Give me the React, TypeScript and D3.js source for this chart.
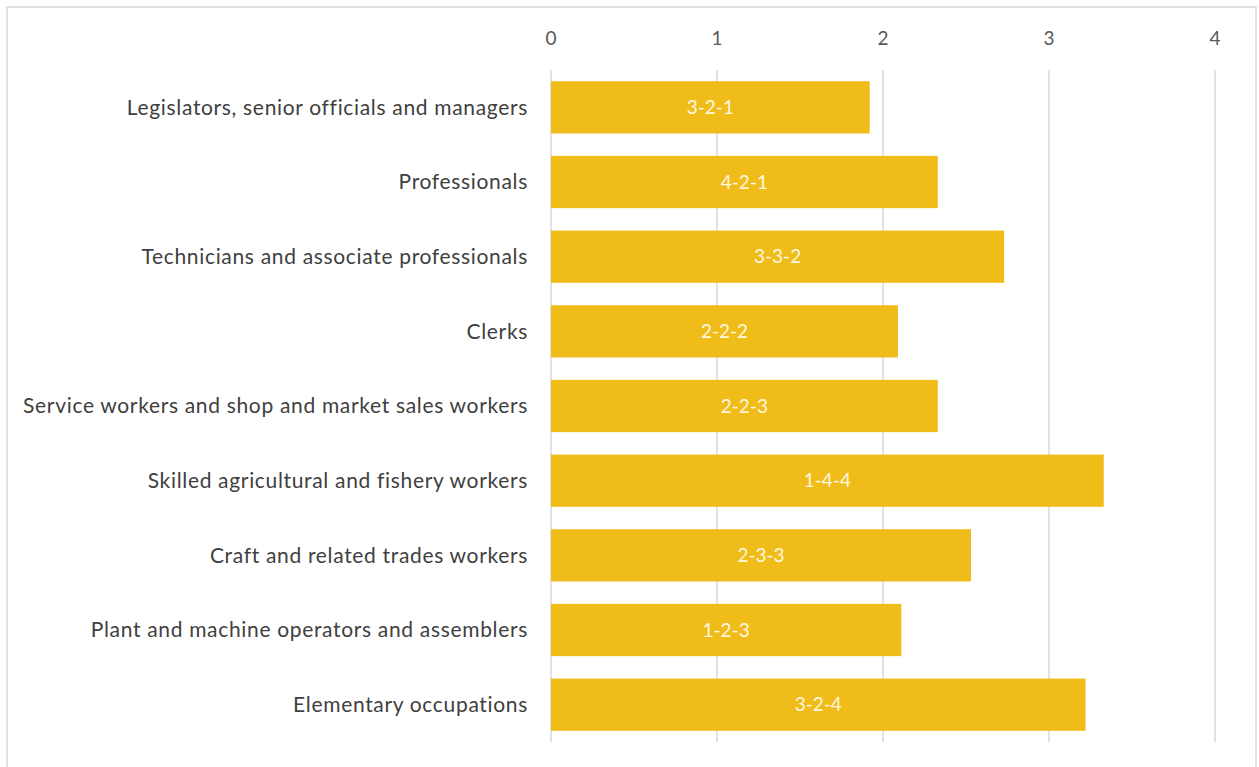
import React from "react";
import * as d3 from "d3";

const categories = [
  "Legislators, senior officials and managers",
  "Professionals",
  "Technicians and associate professionals",
  "Clerks",
  "Service workers and shop and market sales workers",
  "Skilled agricultural and fishery workers",
  "Craft and related trades workers",
  "Plant and machine operators and assemblers",
  "Elementary occupations",
];
const values = [1.92, 2.33, 2.73, 2.09, 2.33, 3.33, 2.53, 2.11, 3.22];
const barLabels = ["3-2-1", "4-2-1", "3-3-2", "2-2-2", "2-2-3", "1-4-4", "2-3-3", "1-2-3", "3-2-4"];
const ticks = [0, 1, 2, 3, 4];

export default function App() {
  const W = 1259, H = 767;
  const x = d3.scaleLinear().domain([0, 4]).range([551, 1215]);
  const y = d3.scaleBand<string>().domain(categories).range([70, 742]).paddingInner(0.3).paddingOuter(0.15);
  const font = "Lato, 'Open Sans', sans-serif";
  return (
    <svg width={W} height={H} style={{ position: "absolute", left: 0, top: 0, background: "#fff" }}>
      <rect x={7} y={7} width={1249} height={800} fill="#fff" stroke="#d9d9d9" strokeWidth={1.5} />
      {ticks.map((t) => (
        <g key={t}>
          <line x1={x(t)} x2={x(t)} y1={70} y2={742} stroke="#d9d9d9" strokeWidth={1.5} />
          <text x={x(t)} y={45} textAnchor="middle" fontFamily={font} fontSize={19} fill="#595959">{t}</text>
        </g>
      ))}
      {categories.map((c, i) => (
        <g key={c}>
          <rect x={x(0)} y={y(c)!} width={x(values[i]) - x(0)} height={y.bandwidth()} fill="#F0BC19" />
          <text x={(x(0) + x(values[i])) / 2} y={y(c)! + y.bandwidth() / 2} dy="0.35em" textAnchor="middle" fontFamily={font} fontSize={19} fill="#FFF8E1">{barLabels[i]}</text>
          <text x={528} y={y(c)! + y.bandwidth() / 2} dy="0.35em" textAnchor="end" fontFamily={font} fontSize={21} letterSpacing={0.67} fill="#404040">{c}</text>
        </g>
      ))}
    </svg>
  );
}
